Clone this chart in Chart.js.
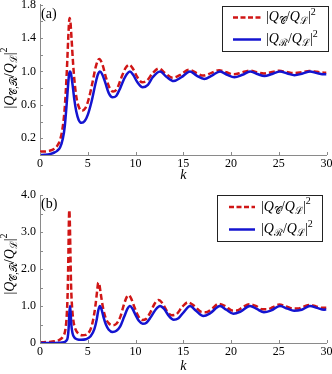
<!DOCTYPE html>
<html>
<head>
<meta charset="utf-8">
<script src="https://cdn.jsdelivr.net/npm/chart.js@4.4.0/dist/chart.umd.min.js"></script>
<style>
html,body{margin:0;padding:0;background:#fff;overflow:hidden;}
#wrap{position:relative;width:332px;height:374px;}
canvas{position:absolute;left:0;top:0;}
</style>
</head>
<body>
<div id="wrap">
<canvas id="c1" width="332" height="374"></canvas>
<canvas id="c2" width="332" height="374"></canvas>
</div>
<script>
// ---------- data ----------
const xTicks = [0, 5, 10, 15, 20, 25, 30];
const yTopLabels = ['0.2', '0.6', '1.0', '1.4', '1.8'];
const yBotLabels = ['0', '1.0', '2.0', '3.0', '4.0'];
const seriesNames = ['|Q_C/Q_L|^2', '|Q_R/Q_L|^2'];

// panel (a)
const kRedTop = [0,0.5,1.0,1.5,1.8,2.1,2.4,2.6,2.8,2.95,3.05,3.1,3.18,3.3,3.45,3.6,3.8,4.05,4.4,4.75,5.1,5.5,5.85,6.2,6.55,6.9,7.3,7.65,8.05,8.5,8.95,9.35,9.75,10.2,10.7,11.2,11.8,12.45,13.1,13.9,14.7,15.6,16.4,17.1,17.9,18.75,19.5,20.3,21.1,21.9,22.7,23.45,24.2,25.05,25.8,26.6,27.4,28.2,29.0,29.75,30];
const redTop  = [0.04,0.042,0.05,0.075,0.11,0.18,0.35,0.58,0.98,1.38,1.6,1.64,1.6,1.4,1.12,0.9,0.7,0.58,0.53,0.56,0.67,0.87,1.06,1.15,1.08,0.93,0.8,0.76,0.79,0.92,1.04,1.08,1.03,0.93,0.87,0.89,0.98,1.035,0.98,0.925,0.96,1.02,0.98,0.95,0.98,1.015,0.99,0.965,0.985,1.01,0.99,0.975,0.99,1.008,0.995,0.98,0.99,1.005,0.995,0.985,0.985];
const kBlueTop = [0,0.5,1.0,1.5,1.8,2.1,2.4,2.6,2.8,2.95,3.05,3.14,3.25,3.4,3.6,3.8,4.05,4.35,4.7,5.0,5.4,5.8,6.05,6.28,6.5,6.85,7.2,7.6,8.0,8.4,8.8,9.1,9.42,9.75,10.2,10.75,11.3,11.8,12.57,13.2,14.0,14.8,15.71,16.4,17.2,18.0,18.85,19.6,20.35,21.2,22.0,22.75,23.5,24.3,25.13,25.9,26.65,27.5,28.27,29.0,29.8,30];
const blueTop  = [0,0.003,0.01,0.03,0.05,0.09,0.2,0.35,0.62,0.85,0.97,1.0,0.97,0.85,0.66,0.52,0.42,0.385,0.41,0.48,0.64,0.85,0.96,1.0,0.97,0.86,0.74,0.69,0.71,0.8,0.91,0.97,1.0,0.96,0.87,0.81,0.84,0.93,1.0,0.94,0.885,0.93,1.0,0.95,0.91,0.95,1.0,0.96,0.93,0.96,1.0,0.97,0.945,0.97,1.0,0.975,0.955,0.975,1.0,0.98,0.965,0.967];

// panel (b)
const kRedBot = [0,1.0,1.5,2.0,2.4,2.65,2.8,2.9,2.98,3.03,3.07,3.12,3.18,3.25,3.35,3.5,3.7,4.0,4.4,4.8,5.2,5.5,5.8,6.0,6.1,6.2,6.35,6.6,6.9,7.25,7.6,8.0,8.4,8.8,9.1,9.3,9.55,9.9,10.3,10.7,11.1,11.6,12.0,12.4,12.8,13.3,13.8,14.3,14.9,15.5,16.1,16.9,17.4,18.0,18.7,19.4,20.1,20.6,21.2,21.9,22.6,23.3,23.8,24.4,25.05,25.8,26.5,27.0,27.6,28.2,28.9,29.6,30];
const redBot  = [0.02,0.03,0.045,0.08,0.17,0.35,0.75,1.4,2.5,3.35,3.59,3.3,2.5,1.6,1.0,0.6,0.38,0.26,0.21,0.22,0.32,0.55,1.0,1.45,1.63,1.6,1.35,0.95,0.66,0.52,0.48,0.52,0.7,1.05,1.25,1.29,1.2,0.96,0.72,0.62,0.65,0.85,1.06,1.16,1.08,0.86,0.75,0.78,0.98,1.1,1.01,0.84,0.83,0.92,1.06,1.0,0.88,0.88,0.96,1.05,1.0,0.91,0.91,0.97,1.04,0.99,0.93,0.93,0.98,1.03,0.99,0.95,0.95];
const kBlueBot = [0,1.0,2.0,2.5,2.75,2.9,3.0,3.07,3.14,3.2,3.28,3.4,3.6,3.9,4.3,4.8,5.3,5.7,5.95,6.1,6.28,6.45,6.65,6.9,7.2,7.6,8.0,8.4,8.8,9.15,9.42,9.7,10.0,10.35,10.75,11.15,11.6,12.1,12.57,13.0,13.5,14.0,14.5,15.1,15.71,16.3,17.1,17.8,18.85,19.5,20.25,21.0,21.99,22.7,23.45,24.2,25.13,25.9,26.6,27.4,28.27,29.0,29.75,30];
const blueBot  = [0,0,0.005,0.02,0.06,0.15,0.4,0.8,1.0,0.85,0.5,0.27,0.15,0.1,0.085,0.1,0.18,0.38,0.65,0.88,1.0,0.9,0.7,0.5,0.36,0.3,0.33,0.45,0.7,0.92,1.0,0.92,0.76,0.6,0.52,0.55,0.7,0.9,1.0,0.92,0.73,0.63,0.67,0.85,1.0,0.88,0.73,0.8,1.0,0.9,0.79,0.85,1.0,0.92,0.83,0.88,1.0,0.93,0.87,0.9,1.0,0.95,0.9,0.905];

// ---------- styling ----------
const RED = '#d01616';
const BLUE = '#1414d0';
const AXIS = '#8a8a8a';
const SERIF = "'Liberation Serif','DejaVu Serif',serif";

function pts(ks, vs) { return ks.map((k, i) => ({x: k, y: vs[i]})); }

function segFont(s, size) {
  if (s === 'i') return 'italic ' + size + 'px ' + SERIF;
  if (s === 'sub' || s === 'sup') return Math.round(size * 0.7) + 'px ' + SERIF;
  return size + 'px ' + SERIF;
}
function richWidth(ctx, segs, size) {
  let w = 0;
  for (const g of segs) { ctx.font = segFont(g.s, size); w += ctx.measureText(g.t).width; }
  return w;
}
function drawRich(ctx, x, y, segs, size, align) {
  const w = richWidth(ctx, segs, size);
  let cx = align === 'center' ? x - w / 2 : x;
  ctx.textBaseline = 'middle';
  ctx.textAlign = 'left';
  ctx.fillStyle = '#000';
  for (const g of segs) {
    ctx.font = segFont(g.s, size);
    let dy = 0;
    if (g.s === 'sub') dy = size * 0.28;
    if (g.s === 'sup') dy = -size * 0.38;
    ctx.fillText(g.t, cx, y + dy);
    cx += ctx.measureText(g.t).width;
  }
}
const labelC = [{t:'|',s:'n'},{t:'Q',s:'i'},{t:'\u{1D49E}',s:'sub'},{t:'/',s:'n'},{t:'Q',s:'i'},{t:'\u2112',s:'sub'},{t:'|',s:'n'},{t:'2',s:'sup'}];
const labelR = [{t:'|',s:'n'},{t:'Q',s:'i'},{t:'\u211B',s:'sub'},{t:'/',s:'n'},{t:'Q',s:'i'},{t:'\u2112',s:'sub'},{t:'|',s:'n'},{t:'2',s:'sup'}];
const labelY = [{t:'|',s:'n'},{t:'Q',s:'i'},{t:'\u{1D49E},\u211B',s:'sub'},{t:'/',s:'n'},{t:'Q',s:'i'},{t:'\u2112',s:'sub'},{t:'|',s:'n'},{t:'2',s:'sup'}];

function makeChart(id, cfg) {
  const decor = {
    id: 'decor',
    afterDraw(chart) {
      const ctx = chart.ctx;
      const xs = chart.scales.x, ys = chart.scales.y;
      ctx.save();
      // inward tick marks
      ctx.strokeStyle = AXIS; ctx.lineWidth = 1;
      ctx.beginPath();
      for (const t of xs.ticks) {
        const px = Math.round(xs.getPixelForValue(t.value)) + 0.5;
        ctx.moveTo(px, ys.bottom); ctx.lineTo(px, ys.bottom - 3);
      }
      for (const t of ys.ticks) {
        const py = Math.round(ys.getPixelForValue(t.value)) + 0.5;
        ctx.moveTo(xs.left, py); ctx.lineTo(xs.left + 3, py);
      }
      ctx.stroke();
      // panel label
      ctx.fillStyle = '#000';
      ctx.font = '14px ' + SERIF;
      ctx.textAlign = 'left'; ctx.textBaseline = 'middle';
      ctx.fillText(cfg.panel, 41, cfg.panelY);
      // x title
      ctx.font = 'italic 14px ' + SERIF;
      ctx.textAlign = 'center';
      ctx.fillText('k', (xs.left + xs.right) / 2, cfg.kY);
      // y title
      ctx.save();
      ctx.translate(10, cfg.yTitleY);
      ctx.rotate(-Math.PI / 2);
      drawRich(ctx, 0, 0, labelY, 14, 'center');
      ctx.restore();
      // legend
      const L = cfg.legend;
      ctx.fillStyle = '#fff';
      ctx.fillRect(L.x, L.y, L.w, L.h);
      ctx.strokeStyle = '#222'; ctx.lineWidth = 1;
      ctx.strokeRect(L.x + 0.5, L.y + 0.5, L.w - 1, L.h - 1);
      ctx.lineWidth = 2.5;
      ctx.strokeStyle = RED; ctx.setLineDash([5, 2.5]);
      ctx.beginPath(); ctx.moveTo(L.lx0, L.r1); ctx.lineTo(L.lx1, L.r1); ctx.stroke();
      ctx.strokeStyle = BLUE; ctx.setLineDash([]);
      ctx.beginPath(); ctx.moveTo(L.lx0, L.r2); ctx.lineTo(L.lx1, L.r2); ctx.stroke();
      drawRich(ctx, L.tx, L.r1, labelC, 14, 'left');
      drawRich(ctx, L.tx, L.r2, labelR, 14, 'left');
      ctx.restore();
    }
  };
  return new Chart(document.getElementById(id), {
    type: 'line',
    data: {
      datasets: [
        {label: seriesNames[0], data: pts(cfg.kr, cfg.r), borderColor: RED, borderWidth: 2.5, borderDash: [6, 3], pointRadius: 0, cubicInterpolationMode: 'monotone', fill: false, order: 2},
        {label: seriesNames[1], data: pts(cfg.kb, cfg.b), borderColor: BLUE, borderWidth: 2.5, pointRadius: 0, cubicInterpolationMode: 'monotone', fill: false, order: 1}
      ]
    },
    options: {
      responsive: false, animation: false, devicePixelRatio: 1,
      layout: {padding: cfg.pad},
      plugins: {legend: {display: false}, tooltip: {enabled: false}},
      scales: {
        x: {
          type: 'linear', min: 0, max: 30,
          afterBuildTicks(s) { s.ticks = xTicks.map(v => ({value: v})); },
          afterFit(s) { s.height = 20; s.paddingLeft = 0; s.paddingRight = 0; },
          grid: {display: false, drawTicks: false},
          border: {display: true, color: AXIS, width: 1},
          ticks: {color: '#000', font: {family: SERIF, size: 12}, padding: 2, maxRotation: 0, autoSkip: false, callback: v => String(v)}
        },
        y: {
          type: 'linear', min: 0, max: cfg.ymax,
          ticks: {stepSize: cfg.step, color: '#000', font: {family: SERIF, size: 12}, padding: 4, autoSkip: false,
                  callback: v => { const s = Math.abs(v) < 1e-9 ? '0' : v.toFixed(1); return cfg.ylab.includes(s) ? s : ''; }},
          afterFit(s) { s.width = 40; s.paddingTop = 0; s.paddingBottom = 0; },
          grid: {display: false, drawTicks: false},
          border: {display: true, color: AXIS, width: 1}
        }
      }
    },
    plugins: [decor]
  });
}

makeChart('c1', {
  kr: kRedTop, r: redTop, kb: kBlueTop, b: blueTop, ymax: 1.8, step: 0.2, ylab: yTopLabels,
  pad: {left: 0, top: 4.6, right: 5.5, bottom: 374 - 155 - 20},
  panel: '(a)', panelY: 14, kY: 175, yTitleY: 78,
  legend: {x: 222, y: 6, w: 107, h: 46, lx0: 233, lx1: 261, r1: 17.5, r2: 39.5, tx: 266}
});
makeChart('c2', {
  kr: kRedBot, r: redBot, kb: kBlueBot, b: blueBot, ymax: 4.0, step: 0.5, ylab: yBotLabels,
  pad: {left: 0, top: 195, right: 5.5, bottom: 374 - 343 - 20},
  panel: '(b)', panelY: 204, kY: 366, yTitleY: 264,
  legend: {x: 217, y: 195, w: 106, h: 47, lx0: 229, lx1: 255, r1: 207, r2: 229.5, tx: 261}
});
</script>
</body>
</html>
